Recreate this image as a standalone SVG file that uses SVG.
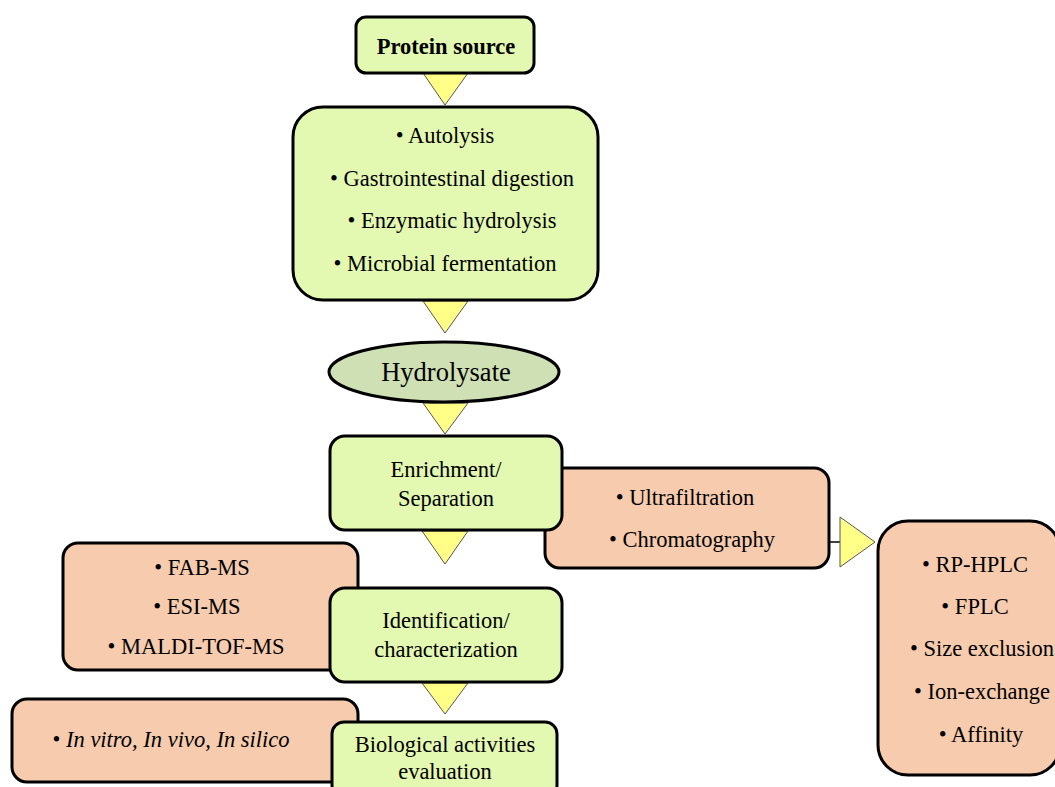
<svg xmlns="http://www.w3.org/2000/svg" width="1055" height="787" viewBox="0 0 1055 787">
<style>
.g{fill:#e3f8b1;stroke:#000;stroke-width:3}
.s{fill:#f7cbad;stroke:#000;stroke-width:3}
.e{fill:#cfe0b4;stroke:#000;stroke-width:3}
.a{fill:#ffff88;stroke:#555;stroke-width:1}
text{font-family:"Liberation Serif","Times New Roman",serif;font-size:22.5px;fill:#000;text-anchor:middle}
text.big{font-size:26.5px}
text.b{font-weight:bold}
tspan.i{font-style:italic}
</style>
<rect width="1055" height="787" fill="#fff"/>
<g id="connectors">
<polygon class="a" points="423,73 468,73 445,105"/>
<polygon class="a" points="423,301 468,301 445,333"/>
<polygon class="a" points="423,403 468,403 445,434"/>
<polygon class="a" points="422,531 468,531 445,564"/>
<polygon class="a" points="422,683 468,683 445,714"/>
<line x1="829" y1="542" x2="840" y2="542" stroke="#000" stroke-width="1.5"/>
<polygon class="a" points="840,517 840,567 875,542"/>
</g>
<g id="protein-source">
<rect class="g" x="356" y="17" width="178" height="56" rx="10"/>
<text class="b" x="446" y="54">Protein source</text>
</g>
<g id="methods">
<rect class="g" x="293" y="107" width="305" height="193" rx="30"/>
<text x="445" y="143">• Autolysis</text>
<text x="452" y="186">• Gastrointestinal digestion</text>
<text x="452" y="228">• Enzymatic hydrolysis</text>
<text x="445" y="271">• Microbial fermentation</text>
</g>
<g id="hydrolysate">
<ellipse class="e" cx="444" cy="372" rx="115" ry="30"/>
<text class="big" x="446" y="381">Hydrolysate</text>
</g>
<g id="ultrafiltration">
<rect class="s" x="545" y="468" width="284" height="100" rx="15"/>
<text x="685" y="505">• Ultrafiltration</text>
<text x="692" y="547">• Chromatography</text>
</g>
<g id="enrichment">
<rect class="g" x="330" y="436" width="232" height="94" rx="15"/>
<text x="446" y="477">Enrichment/</text>
<text x="446" y="506">Separation</text>
</g>
<g id="chromatography-types">
<rect class="s" x="878" y="521" width="182" height="254" rx="30"/>
<text x="975" y="572">• RP-HPLC</text>
<text x="975" y="614">• FPLC</text>
<text x="982" y="656">• Size exclusion</text>
<text x="982" y="699">• Ion-exchange</text>
<text x="981" y="742">• Affinity</text>
</g>
<g id="ms-methods">
<rect class="s" x="63" y="543" width="295" height="127" rx="15"/>
<text x="202" y="575">• FAB-MS</text>
<text x="197" y="614">• ESI-MS</text>
<text x="196" y="654">• MALDI-TOF-MS</text>
</g>
<g id="identification">
<rect class="g" x="330" y="588" width="232" height="94" rx="15"/>
<text x="446" y="628">Identification/</text>
<text x="446" y="657">characterization</text>
</g>
<g id="assays">
<rect class="s" x="12" y="699" width="346" height="83" rx="15"/>
<text x="171" y="747">• <tspan class="i">In vitro, In vivo, In silico</tspan></text>
</g>
<g id="biological">
<rect class="g" x="332" y="722" width="225" height="75" rx="12"/>
<text x="445" y="752">Biological activities</text>
<text x="445" y="779">evaluation</text>
</g>
</svg>
